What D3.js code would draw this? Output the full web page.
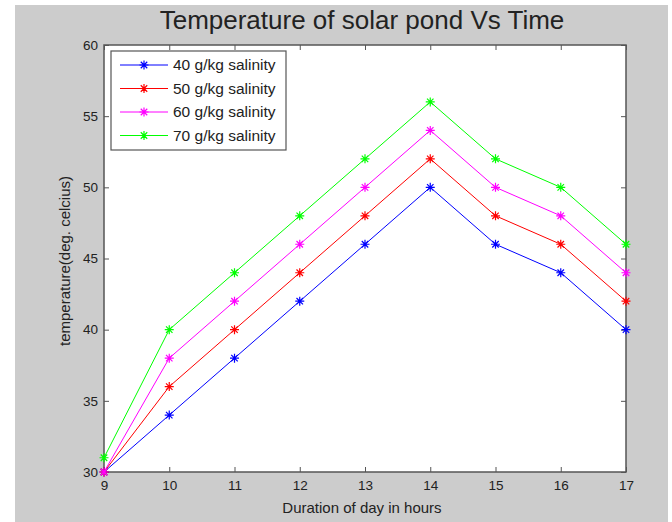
<!DOCTYPE html>
<html>
<head>
<meta charset="utf-8">
<script src="https://cdn.jsdelivr.net/npm/d3@7"></script>
<style>
  body { margin: 0; background: #fff; }
  svg text { font-family: Arial, "Liberation Sans", sans-serif; fill: #222; }
</style>
</head>
<body>
<div id="chart"></div>
<script>
/*Chart data*/
const hours = [9, 10, 11, 12, 13, 14, 15, 16, 17];
const salinity40 = [30, 34, 38, 42, 46, 50, 46, 44, 40];
const salinity50 = [30, 36, 40, 44, 48, 52, 48, 46, 42];
const salinity60 = [30, 38, 42, 46, 50, 54, 50, 48, 44];
const salinity70 = [31, 40, 44, 48, 52, 56, 52, 50, 46];
const seriesNames = ["40 g/kg salinity", "50 g/kg salinity", "60 g/kg salinity", "70 g/kg salinity"];
const seriesColors = ["#0000ff", "#ff0000", "#ff00ff", "#00ff00"];
const yTicks = [30, 35, 40, 45, 50, 55, 60];

const allSeries = [salinity40, salinity50, salinity60, salinity70];

const width = 672;
const height = 522;
const plot = {left: 104, right: 626, top: 45, bottom: 472};

const svg = d3.select("#chart")
       .append("svg")
       .attr("width", width)
       .attr("height", height);

/*Gray figure background*/
svg.append("rect")
       .attr("x", 15).attr("y", 5)
       .attr("width", 653).attr("height", height - 5)
       .attr("fill", "#cccccc");

const xScale = d3.scaleLinear()
       .domain([9, 17])
       .range([plot.left, plot.right]);

const yScale = d3.scaleLinear()
       .domain([30, 60])
       .range([plot.bottom, plot.top]);

/*White axes area*/
svg.append("rect")
       .attr("x", plot.left).attr("y", plot.top)
       .attr("width", plot.right - plot.left)
       .attr("height", plot.bottom - plot.top)
       .attr("fill", "#fff");

/*Axes with inward ticks, matlab style box*/
const axisColor = "#555";
const tickLen = 5;

const xAxis = d3.axisBottom(xScale).tickValues(hours).tickSize(-tickLen).tickPadding(8).tickFormat(d3.format("d"));
const yAxis = d3.axisLeft(yScale).tickValues(yTicks).tickSize(-tickLen).tickPadding(6).tickFormat(d3.format("d"));
const xAxisTop = d3.axisTop(xScale).tickValues(hours).tickSize(-tickLen).tickFormat("");
const yAxisRight = d3.axisRight(yScale).tickValues(yTicks).tickSize(-tickLen).tickFormat("");

function styleAxis(g) {
       g.select(".domain").remove();
       g.selectAll(".tick line").attr("stroke", axisColor);
       g.selectAll(".tick text").style("font-size", "13.5px").attr("fill", "#222");
}

svg.append("g").attr("transform", "translate(0," + plot.bottom + ")").call(xAxis).call(styleAxis);
svg.append("g").attr("transform", "translate(" + plot.left + ",0)").call(yAxis).call(styleAxis);
svg.append("g").attr("transform", "translate(0," + plot.top + ")").call(xAxisTop).call(styleAxis);
svg.append("g").attr("transform", "translate(" + plot.right + ",0)").call(yAxisRight).call(styleAxis);

svg.append("rect")
       .attr("x", plot.left).attr("y", plot.top)
       .attr("width", plot.right - plot.left)
       .attr("height", plot.bottom - plot.top)
       .attr("fill", "none")
       .attr("stroke", axisColor)
       .attr("stroke-width", 1.5);

/*Asterisk marker path*/
function asterisk(cx, cy, r) {
       const d = r * 0.72;
       return "M" + (cx - r) + "," + cy + "H" + (cx + r) +
              "M" + cx + "," + (cy - r) + "V" + (cy + r) +
              "M" + (cx - d) + "," + (cy - d) + "L" + (cx + d) + "," + (cy + d) +
              "M" + (cx - d) + "," + (cy + d) + "L" + (cx + d) + "," + (cy - d);
}

const line = d3.line()
       .x((d, i) => xScale(hours[i]))
       .y(d => yScale(d));

allSeries.forEach((values, s) => {
       svg.append("path")
              .datum(values)
              .attr("d", line)
              .attr("fill", "none")
              .attr("stroke", seriesColors[s])
              .attr("stroke-width", 1);

       svg.append("g")
              .selectAll("path")
              .data(values)
              .enter()
              .append("path")
              .attr("d", (d, i) => asterisk(xScale(hours[i]), yScale(d), 4.5))
              .attr("stroke", seriesColors[s])
              .attr("stroke-width", 1.2)
              .attr("fill", "none");
});

/*Title and axis labels*/
svg.append("text")
       .attr("x", 362).attr("y", 29)
       .attr("text-anchor", "middle")
       .style("font-size", "26px")
       .text("Temperature of solar pond Vs Time");

svg.append("text")
       .attr("x", 362).attr("y", 513)
       .attr("text-anchor", "middle")
       .style("font-size", "15px")
       .text("Duration of day in hours");

svg.append("text")
       .attr("transform", "translate(70,261) rotate(-90)")
       .attr("text-anchor", "middle")
       .style("font-size", "15px")
       .text("temperature(deg. celcius)");

/*Legend*/
const legend = svg.append("g").attr("id", "legend");
legend.append("rect")
       .attr("x", 111).attr("y", 51)
       .attr("width", 175).attr("height", 99)
       .attr("fill", "#fff")
       .attr("stroke", "#555")
       .attr("stroke-width", 1.2);

seriesNames.forEach((name, s) => {
       const ly = 65 + s * 23.5;
       legend.append("line")
              .attr("x1", 120).attr("x2", 168)
              .attr("y1", ly).attr("y2", ly)
              .attr("stroke", seriesColors[s]);
       legend.append("path")
              .attr("d", asterisk(144, ly, 4.5))
              .attr("stroke", seriesColors[s])
              .attr("stroke-width", 1.2);
       legend.append("text")
              .attr("x", 173).attr("y", ly + 5)
              .style("font-size", "15.5px")
              .text(name);
});
</script>
</body>
</html>
